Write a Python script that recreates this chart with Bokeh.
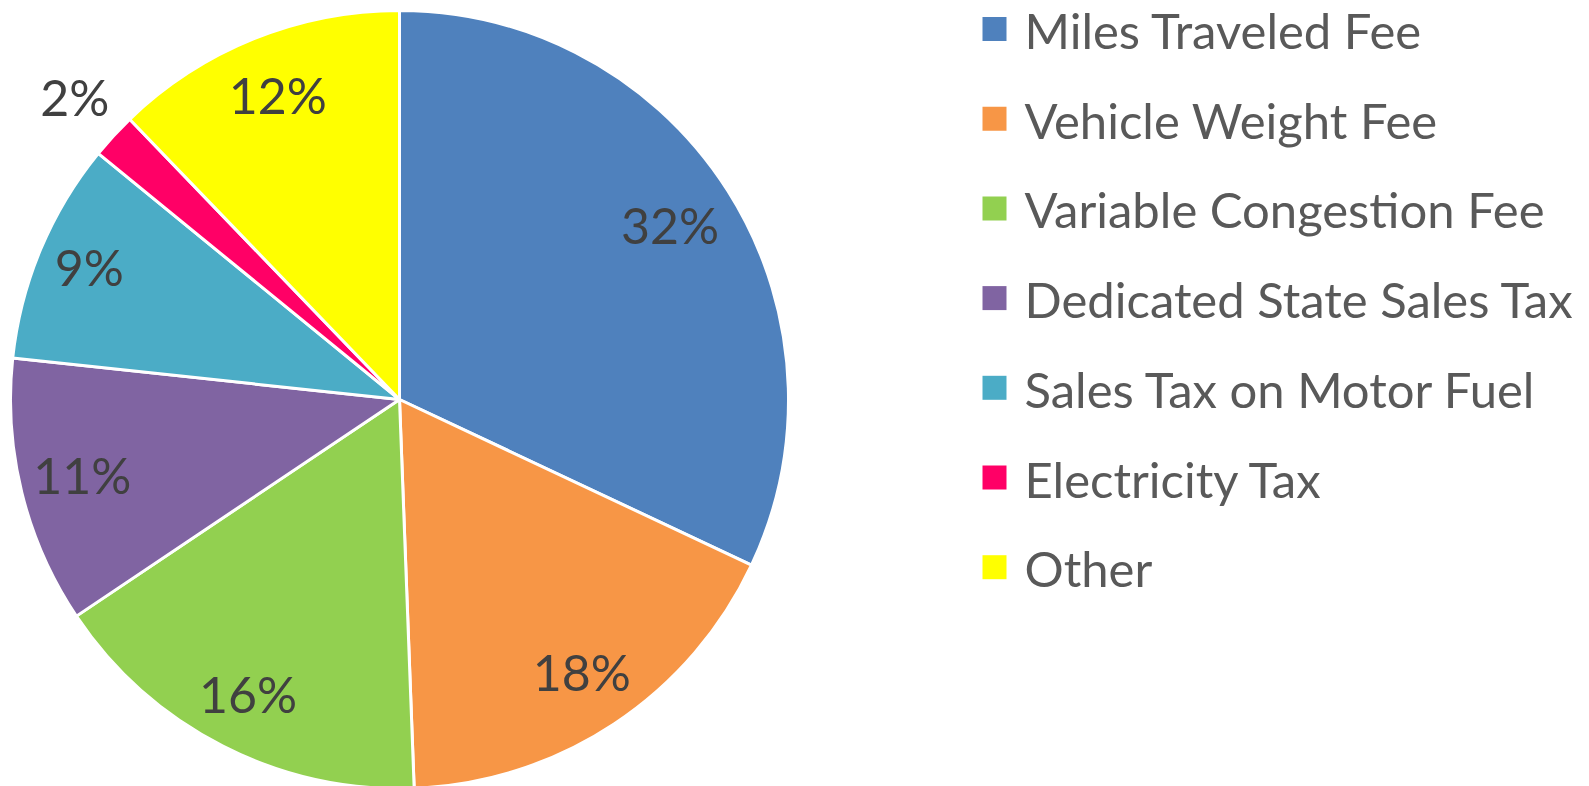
import math
from bokeh.plotting import figure
from bokeh.models import Range1d, ColumnDataSource
from bokeh.core.properties import value
from bokeh.embed import file_html
from bokeh.resources import INLINE

# ---- data ----
categories = ["Miles Traveled Fee", "Vehicle Weight Fee", "Variable Congestion Fee",
              "Dedicated State Sales Tax", "Sales Tax on Motor Fuel", "Electricity Tax", "Other"]
shares = [32.0, 17.4, 16.2, 11.1, 9.2, 1.9, 12.2]
pct_labels = ["32%", "18%", "16%", "11%", "9%", "2%", "12%"]
colors = ["#4F81BD", "#F79646", "#92D050", "#8064A2", "#4BACC6", "#FF0066", "#FFFF00"]

W, H = 1589, 786
CX, CY, R = 399, H - 399, 389

total = sum(shares)
starts, ends = [], []
cum = 0.0
for s in shares:
    a0 = cum / total * 2 * math.pi
    cum += s
    a1 = cum / total * 2 * math.pi
    # clockwise from 12 o'clock
    starts.append(math.pi / 2 - a1)
    ends.append(math.pi / 2 - a0)

# label positions: radial fraction per slice (Excel best-fit style)
label_r = [0.824, 0.849, 0.858, 0.84, 0.864, 1.135, 0.837]
lx, ly = [], []
cum = 0.0
for s, f in zip(shares, label_r):
    mid = (cum + s / 2) / total * 2 * math.pi
    cum += s
    ang = math.pi / 2 - mid
    lx.append(CX + f * R * math.cos(ang))
    ly.append(CY + f * R * math.sin(ang))

p = figure(width=W, height=H, x_range=Range1d(0, W), y_range=Range1d(0, H),
           output_backend="svg", toolbar_location=None, min_border=0)
p.axis.visible = False
p.grid.visible = False
p.outline_line_color = None
p.background_fill_color = "white"

src = ColumnDataSource(dict(start=starts, end=ends, color=colors, cat=categories))
p.wedge(x=CX, y=CY, radius=R, start_angle="start", end_angle="end",
        fill_color="color", line_color="white", line_width=3, source=src)

p.text(x=lx, y=ly, text=pct_labels, text_font=value("Lato"), text_font_size="50px",
       text_color="#404040", text_align="center", text_baseline="middle", y_offset=-3)

# legend
leg_y = [H - (28.5 + i * 89.7) for i in range(len(categories))]
p.scatter(x=[994] * len(categories), y=leg_y, marker="square", size=24,
          fill_color=colors, line_color=None)
p.text(x=[1024] * len(categories), y=leg_y, text=categories, text_font=value("Lato"),
       text_font_size="49px", text_color="#595959", text_align="left",
       text_baseline="middle", y_offset=1)

open("out.html", "w").write(file_html(p, INLINE))
